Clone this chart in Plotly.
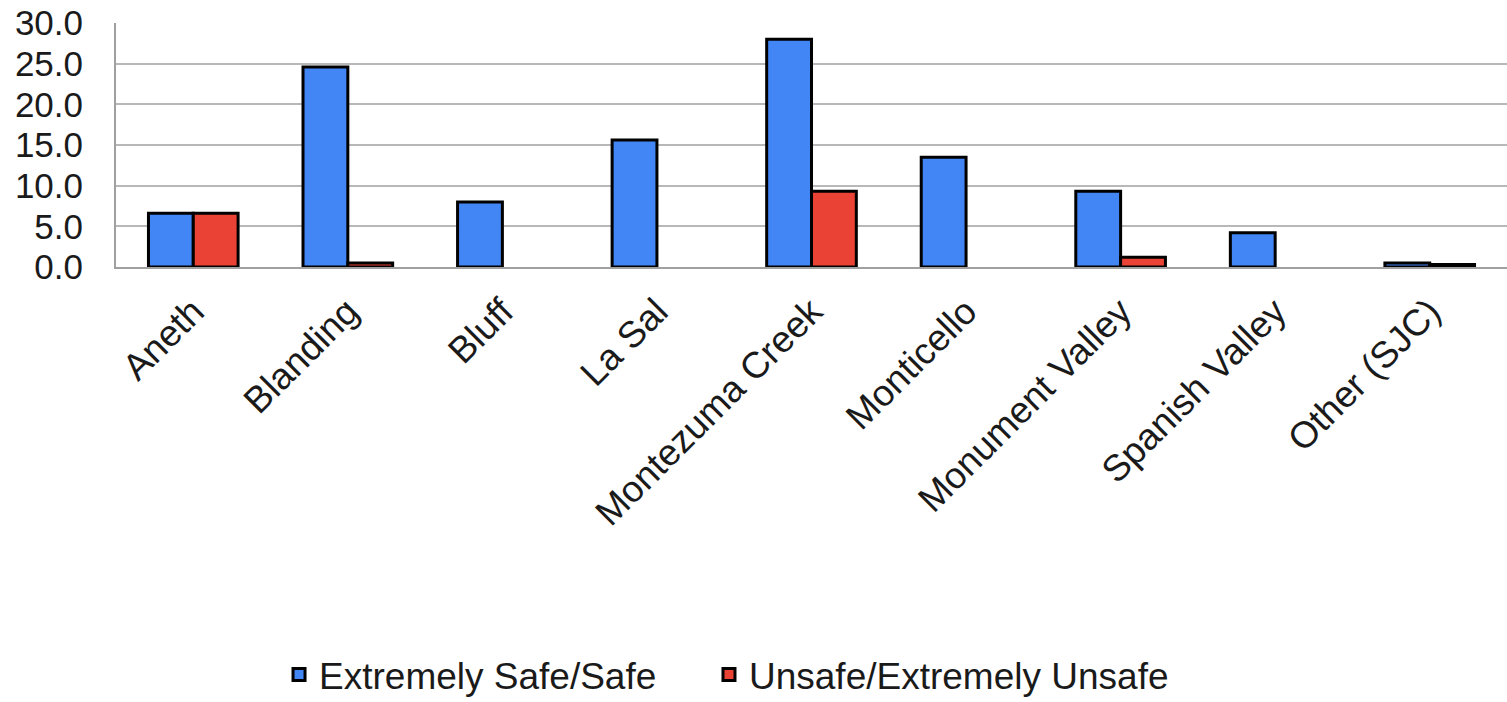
import plotly.graph_objects as go

categories = ["Aneth", "Blanding", "Bluff", "La Sal", "Montezuma Creek",
              "Monticello", "Monument Valley", "Spanish Valley", "Other (SJC)"]
safe_values = [6.6, 24.6, 8.0, 15.6, 28.0, 13.5, 9.3, 4.2, 0.5]
unsafe_values = [6.6, 0.5, None, None, 9.3, None, 1.2, None, 0.3]
series_names = ["Extremely Safe/Safe", "Unsafe/Extremely Unsafe"]
y_ticks = [0, 5, 10, 15, 20, 25, 30]

FONT = "Liberation Sans, Arial, sans-serif"
TXT = "#1a1a1a"

fig = go.Figure()
fig.add_trace(go.Bar(x=categories, y=safe_values, name=series_names[0], legend="legend",
                     marker=dict(color="#4285F4", line=dict(color="#000000", width=3))))
fig.add_trace(go.Bar(x=categories, y=unsafe_values, name=series_names[1], legend="legend2",
                     marker=dict(color="#EA4335", line=dict(color="#000000", width=3))))

legend_common = dict(orientation="h", xanchor="left", y=-1.799, yanchor="bottom",
                     font=dict(size=37, color=TXT), itemwidth=30, bgcolor="rgba(0,0,0,0)")

fig.update_layout(
    width=1507, height=702,
    margin=dict(l=116, r=0, t=23, b=435, autoexpand=False),
    paper_bgcolor="white", plot_bgcolor="white",
    barmode="group", bargap=0.42, bargroupgap=0,
    font=dict(family=FONT, size=36, color=TXT),
    showlegend=True,
    legend=dict(x=0.1172, **legend_common),
    legend2=dict(x=0.4263, **legend_common),
    xaxis=dict(tickangle=-45, showgrid=False, showline=True, linecolor="#a0a0a0",
               linewidth=2, ticks="", automargin=False, ticklabelstandoff=6,
               tickfont=dict(size=37, color=TXT)),
    yaxis=dict(range=[0, 30], tickvals=y_ticks, tickformat=".1f", showgrid=True,
               gridcolor="#b8b8b8", gridwidth=2, showline=True, linecolor="#a0a0a0",
               linewidth=2, zeroline=False, ticks="", ticklabelstandoff=24,
               ticklabeloverflow="allow", automargin=False,
               tickfont=dict(size=35, color=TXT)),
)

# remove the default 8px page margin so the figure fills the window exactly
fig.write_html("out.html", config={"displayModeBar": False},
               post_script="document.body.style.margin='0';")
